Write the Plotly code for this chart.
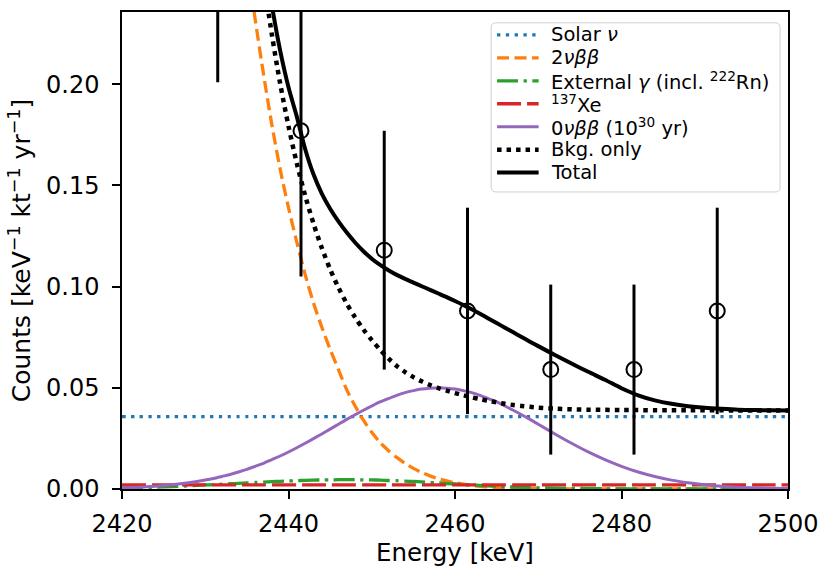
import plotly.graph_objects as go

# Energy grid (keV) for the model spectra: finer steps across the steep region
energy = list(range(2420, 2430, 2)) + list(range(2430, 2471)) + list(range(2472, 2501, 2))

# Background components (counts / keV / kt / yr)
solar_level = 0.0358
xe137_level = 0.0020
solar_nu = [solar_level] * len(energy)
xe137 = [xe137_level] * len(energy)

two_nu = [1.60, 1.26, 0.99, 0.78, 0.61,
          0.48, 0.43, 0.38, 0.335, 0.296, 0.262, 0.232, 0.205, 0.180, 0.158,
          0.139, 0.122, 0.106, 0.092, 0.080, 0.069, 0.059, 0.049, 0.041, 0.034,
          0.028, 0.023, 0.0190, 0.0156, 0.0127, 0.0102, 0.0082, 0.0065, 0.0051, 0.0040,
          0.0031, 0.0024, 0.0018, 0.0013, 0.0010, 0.0007, 0.0005, 0.0004, 0.0003, 0.0002,
          0.0001,
          0, 0, 0, 0, 0, 0, 0, 0, 0, 0, 0, 0, 0, 0, 0]

external_gamma = [0.0004, 0.0006, 0.0009, 0.0012, 0.0016,
                  0.0020, 0.0022, 0.0024, 0.0026, 0.0028, 0.0030, 0.0032, 0.0034, 0.0036, 0.0038,
                  0.0040, 0.0041, 0.0043, 0.0044, 0.0045, 0.0045, 0.0046, 0.0046, 0.0046, 0.0045,
                  0.0045, 0.0044, 0.0042, 0.0041, 0.0039, 0.0037, 0.0035, 0.0032, 0.0030, 0.0027,
                  0.0025, 0.0022, 0.0020, 0.0018, 0.0015, 0.0013, 0.0011, 0.0010, 0.0008, 0.0007,
                  0.0006,
                  0.0004, 0.0003, 0.0002, 0.0001, 0.0001, 0, 0, 0, 0, 0, 0, 0, 0, 0, 0]

# Signal: 0vbb peak for a half-life of 1e30 yr
zero_nu = [0.0006, 0.0009, 0.0014, 0.0021, 0.0031,
           0.0044, 0.0052, 0.0062, 0.0072, 0.0084, 0.0097, 0.0112, 0.0127, 0.0145, 0.0163,
           0.0183, 0.0204, 0.0226, 0.0249, 0.0272, 0.0296, 0.0320, 0.0344, 0.0367, 0.0389,
           0.0410, 0.0430, 0.0447, 0.0463, 0.0476, 0.0486, 0.0494, 0.0498, 0.0500, 0.0498,
           0.0494, 0.0486, 0.0476, 0.0463, 0.0447, 0.0430, 0.0410, 0.0389, 0.0367, 0.0344,
           0.0320,
           0.0272, 0.0226, 0.0183, 0.0145, 0.0112, 0.0084, 0.0062, 0.0044, 0.0031, 0.0021,
           0.0014, 0.0009, 0.0006, 0.0004, 0.0002]

# Summed background model and background + signal model
bkg_only = [2.35, 1.78, 1.36, 1.03, 0.79,
            0.608, 0.533, 0.469, 0.413, 0.364, 0.321, 0.2845, 0.2525, 0.2246, 0.2003,
            0.1793, 0.1609, 0.1450, 0.1312, 0.1191, 0.1086, 0.0995, 0.0916, 0.0848, 0.0788,
            0.0736, 0.0688, 0.0645, 0.0608, 0.0578, 0.0553, 0.0532, 0.0514, 0.0499, 0.0486,
            0.0474, 0.0463, 0.0453, 0.0444, 0.0436, 0.0428, 0.0421, 0.0415, 0.0410, 0.0406,
            0.0402,
            0.0397, 0.0394, 0.0392, 0.0391, 0.0390, 0.0390, 0.0389, 0.0389, 0.0389, 0.0389,
            0.0389, 0.0388, 0.0388, 0.0388, 0.0388]

total = [2.35, 1.78, 1.36, 1.03, 0.79,
         0.612, 0.538, 0.475, 0.420, 0.372, 0.331, 0.296, 0.265, 0.239, 0.2166,
         0.1985, 0.1840, 0.1680, 0.1555, 0.1460, 0.1385, 0.1322, 0.1267, 0.1218, 0.1175,
         0.1138, 0.1107, 0.1081, 0.1058, 0.1038, 0.1020, 0.1002, 0.0984, 0.0966, 0.0948,
         0.0929, 0.0909, 0.0888, 0.0866, 0.0843, 0.0820, 0.0797, 0.0774, 0.0751, 0.0728,
         0.0706,
         0.0662, 0.0620, 0.0579, 0.0540, 0.0498, 0.0463, 0.0438, 0.0421, 0.0409, 0.0401,
         0.0396, 0.0392, 0.0390, 0.0389, 0.0388]

# Pseudo-data (binned counts with Poisson errors)
data_energy = [2431.5, 2441.5, 2451.5, 2461.5, 2471.5, 2481.5, 2491.5]
data_counts = [0.294, 0.177, 0.118, 0.088, 0.059, 0.059, 0.088]
data_err = [0.093, 0.072, 0.059, 0.051, 0.042, 0.042, 0.051]

FONT = "DejaVu Sans"
BLUE, ORANGE, GREEN, RED, PURPLE = "#1f77b4", "#ff7f0e", "#2ca02c", "#d62728", "#9467bd"

series = [
    ("Solar <i>ν</i>", solar_nu, dict(color=BLUE, width=3.3, dash="3.3px,5.5px")),
    ("2<i>νββ</i>", two_nu, dict(color=ORANGE, width=3.3, dash="12px,5.5px")),
    ("External <i>γ</i> (incl. <sup>222</sup>Rn)", external_gamma,
     dict(color=GREEN, width=3.3, dash="21px,5.5px,3.3px,5.5px")),
    ("<sup>137</sup>Xe", xe137, dict(color=RED, width=3.3, dash="24px,6px")),
    ("0<i>νββ</i> (10<sup>30</sup> yr)", zero_nu, dict(color=PURPLE, width=3)),
    ("Bkg. only", bkg_only, dict(color="black", width=4.5, dash="4.5px,5px")),
    ("Total", total, dict(color="black", width=4)),
]

fig = go.Figure()
for name, yvals, line in series:
    fig.add_trace(go.Scatter(x=energy, y=yvals, mode="lines", name=name,
                             line=dict(shape="spline", smoothing=0.8, **line),
                             showlegend=False))

fig.add_trace(go.Scatter(
    x=data_energy, y=data_counts, mode="markers", showlegend=False,
    marker=dict(symbol="circle-open", size=15, color="black", line=dict(width=2, color="black")),
    error_y=dict(type="data", array=data_err, visible=True, thickness=3, width=0, color="black"),
))

# Plot area in pixels: x 122..795, y 10..495
L, R, T, B = 122, 795, 10, 495
W, H = 829, 571


def px_x(p):
    return (p - L) / (R - L)


def px_y(p):
    return (B - p) / (B - T)


# Legend drawn as a framed box with line samples and labels
lx0, lx1, ly0, ly1, rad = 495, 787, 21, 193, 5
path = (f"M {px_x(lx0 + rad)} {px_y(ly0)} L {px_x(lx1 - rad)} {px_y(ly0)} "
        f"Q {px_x(lx1)} {px_y(ly0)} {px_x(lx1)} {px_y(ly0 + rad)} "
        f"L {px_x(lx1)} {px_y(ly1 - rad)} Q {px_x(lx1)} {px_y(ly1)} {px_x(lx1 - rad)} {px_y(ly1)} "
        f"L {px_x(lx0 + rad)} {px_y(ly1)} Q {px_x(lx0)} {px_y(ly1)} {px_x(lx0)} {px_y(ly1 - rad)} "
        f"L {px_x(lx0)} {px_y(ly0 + rad)} Q {px_x(lx0)} {px_y(ly0)} {px_x(lx0 + rad)} {px_y(ly0)} Z")
shapes = [dict(type="path", xref="paper", yref="paper", path=path, layer="above",
               fillcolor="rgba(255,255,255,0.8)", line=dict(color="#d0d0d0", width=1))]
annotations = []
row0, row_step = 33.3, 23.33
for i, (name, _, line) in enumerate(series):
    yc = row0 + i * row_step
    shapes.append(dict(type="line", xref="paper", yref="paper", layer="above",
                       x0=px_x(501), x1=px_x(543), y0=px_y(yc), y1=px_y(yc),
                       line=dict(color=line["color"], width=line["width"],
                                 dash=line.get("dash", "solid"))))
    annotations.append(dict(xref="paper", yref="paper", x=px_x(555), y=px_y(yc),
                            xanchor="left", yanchor="middle", showarrow=False, text=name,
                            borderpad=0,
                            font=dict(family=FONT, size=19.5, color="black")))

axis_common = dict(showline=True, linecolor="black", linewidth=1.5, mirror=True,
                   ticks="outside", ticklen=8, tickwidth=1.5, tickcolor="black",
                   showgrid=False, zeroline=False,
                   tickfont=dict(family=FONT, size=24, color="black"))

fig.update_layout(
    width=W, height=H,
    margin=dict(l=L, r=W - R, t=T, b=H - B, pad=0),
    paper_bgcolor="white", plot_bgcolor="white",
    shapes=shapes, annotations=annotations,
    xaxis=dict(range=[2420, 2500], tickvals=[2420, 2440, 2460, 2480, 2500],
               ticklabelstandoff=4,
               title=dict(text="Energy [keV]", font=dict(family=FONT, size=24.5, color="black"),
                          standoff=6),
               **axis_common),
    yaxis=dict(range=[0, 0.2357], tickvals=[0, 0.05, 0.10, 0.15, 0.20], tickformat=".2f",
               ticklabelstandoff=8,
               title=dict(text="Counts [keV<sup>−1</sup> kt<sup>−1</sup> yr<sup>−1</sup>]",
                          font=dict(family=FONT, size=25, color="black"), standoff=8),
               **axis_common),
)

fig.write_html("out.html")
